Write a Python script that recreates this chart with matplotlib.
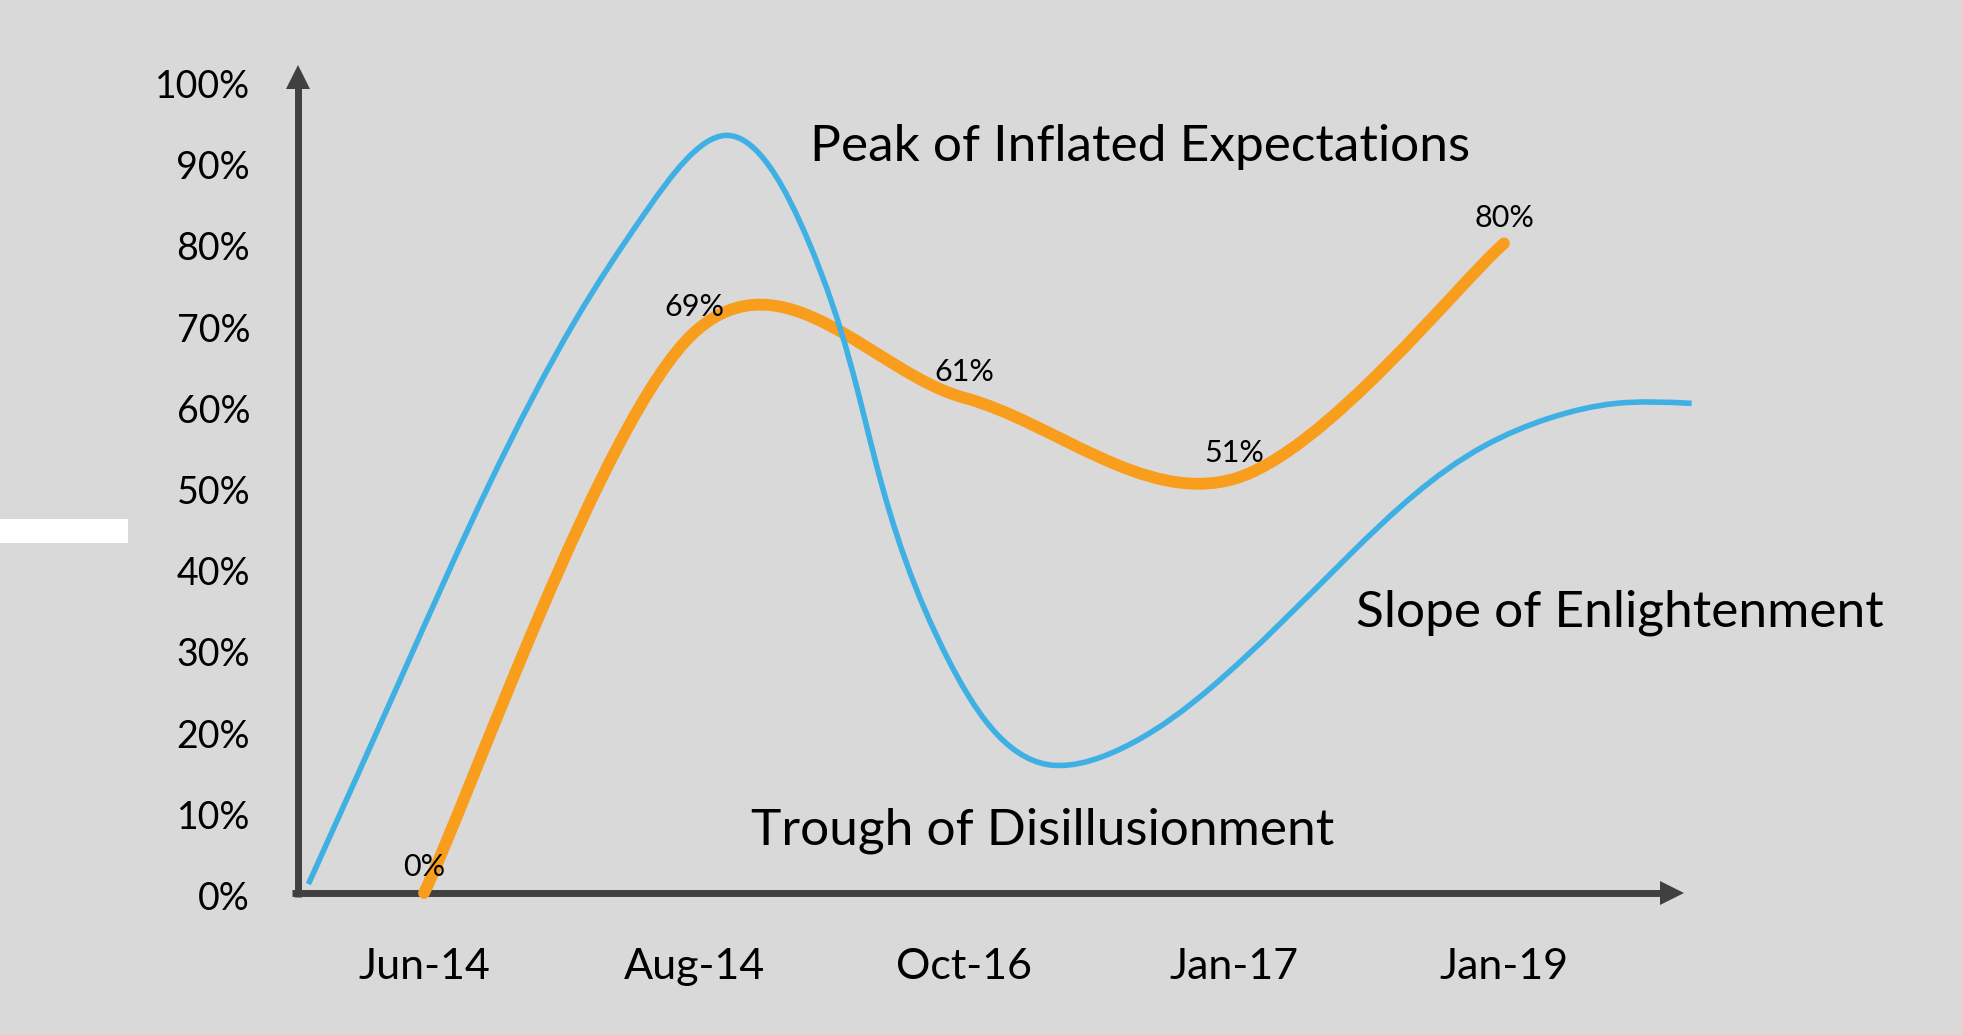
import matplotlib
matplotlib.use("Agg")
import numpy as np
import matplotlib.pyplot as plt
from matplotlib.path import Path
from matplotlib.patches import PathPatch, Rectangle
from matplotlib.transforms import ScaledTranslation

# ---------------- data ----------------
categories = ["Jun-14", "Aug-14", "Oct-16", "Jan-17", "Jan-19"]
adoption_values = [0, 69, 61, 51, 80]          # orange series (%)
adoption_labels = ["0%", "69%", "61%", "51%", "80%"]

# blue "hype cycle" reference curve: position in category units, value in %
hype_x = [0.572, 0.911, 1.244, 1.562, 1.826, 2.117, 2.422, 2.675, 2.944,
          3.313, 3.625, 3.908, 4.430, 4.924, 5.170, 5.417, 5.695]
hype_y = [1.1, 26.2, 50.5, 70.6, 84.1, 93.3, 80.4, 52.8, 28.6,
          15.8, 18.5, 25.1, 41.7, 55.0, 58.5, 60.3, 60.3]

y_ticks = [0, 10, 20, 30, 40, 50, 60, 70, 80, 90, 100]
y_tick_labels = [f"{v}%" for v in y_ticks]

phase_labels = ["Peak of Inflated Expectations",
                "Trough of Disillusionment",
                "Slope of Enlightenment"]
phase_pos = [(3.652, 90.1), (3.293, 6.0), (5.43, 32.8)]

# ---------------- style ----------------
BG = "#D9D9D9"
AXC = "#404040"
BLUE = "#3EB0E4"
ORANGE = "#F99D1C"
FONT = "Lato"

W, H = 1962, 1035
fig = plt.figure(figsize=(W / 100, H / 100), dpi=100, facecolor=BG)
ax = fig.add_axes([298 / W, (H - 893) / H, 1385 / W, 812 / H])
ax.set_facecolor(BG)
ax.set_xlim(0.5333, 5.663)
ax.set_ylim(0, 100)
for s in ax.spines.values():
    s.set_visible(False)


def smooth_path_uniform(xs, ys):
    """Excel-like line smoothing for evenly spaced categories."""
    pts = list(zip(xs, ys))
    ext = [pts[0]] + pts + [pts[-1]]
    verts = [pts[0]]
    codes = [Path.MOVETO]
    for i in range(len(pts) - 1):
        p0, p1, p2, p3 = ext[i], ext[i + 1], ext[i + 2], ext[i + 3]
        c1 = (p1[0] + (p2[0] - p0[0]) / 6, p1[1] + (p2[1] - p0[1]) / 6)
        c2 = (p2[0] - (p3[0] - p1[0]) / 6, p2[1] - (p3[1] - p1[1]) / 6)
        verts += [c1, c2, p2]
        codes += [Path.CURVE4] * 3
    return Path(verts, codes)


def _natural_second_derivs(t, f):
    n = len(t)
    h = np.diff(t)
    A = np.zeros((n, n))
    r = np.zeros(n)
    A[0, 0] = A[-1, -1] = 1.0
    for i in range(1, n - 1):
        A[i, i - 1] = h[i - 1]
        A[i, i] = 2 * (h[i - 1] + h[i])
        A[i, i + 1] = h[i]
        r[i] = 6 * ((f[i + 1] - f[i]) / h[i] - (f[i] - f[i - 1]) / h[i - 1])
    return np.linalg.solve(A, r)


def smooth_path_spline(xs, ys):
    """Parametric natural cubic spline through the points (chord-length
    knots measured on screen), emitted as Bezier segments."""
    P = np.column_stack([xs, ys]).astype(float)
    disp = ax.transData.transform(P)
    t = np.concatenate([[0], np.cumsum(np.hypot(*np.diff(disp, axis=0).T))])
    Mx = _natural_second_derivs(t, P[:, 0])
    My = _natural_second_derivs(t, P[:, 1])
    verts = [tuple(P[0])]
    codes = [Path.MOVETO]
    for i in range(len(P) - 1):
        h = t[i + 1] - t[i]
        ctrl = []
        for f, M in ((P[:, 0], Mx), (P[:, 1], My)):
            s = (f[i + 1] - f[i]) / h
            d0 = s - h * (2 * M[i] + M[i + 1]) / 6
            d1 = s + h * (M[i] + 2 * M[i + 1]) / 6
            ctrl.append((f[i] + h * d0 / 3, f[i + 1] - h * d1 / 3))
        c1 = (ctrl[0][0], ctrl[1][0])
        c2 = (ctrl[0][1], ctrl[1][1])
        verts += [c1, c2, tuple(P[i + 1])]
        codes += [Path.CURVE4] * 3
    return Path(verts, codes)


# axes arrows
ax.plot([0, 0], [-0.005, 1.0], transform=ax.transAxes, color=AXC, lw=5,
        solid_capstyle="butt", clip_on=False, zorder=1)
ax.plot([0], [1.00554], transform=ax.transAxes, marker="^", markersize=16.6,
        color=AXC, markeredgewidth=0, clip_on=False, zorder=1)
ax.plot([-0.0045, 0.99], [0, 0], transform=ax.transAxes, color=AXC, lw=5,
        solid_capstyle="butt", clip_on=False, zorder=1)
ax.plot([0.9917], [0], transform=ax.transAxes, marker=">", markersize=16.6,
        color=AXC, markeredgewidth=0, clip_on=False, zorder=1)

# series
xs_cat = list(range(1, len(categories) + 1))
orange = PathPatch(smooth_path_uniform(xs_cat, adoption_values), fill=False,
                   edgecolor=ORANGE, lw=8.5, capstyle="round",
                   transform=ax.transData, clip_on=False, zorder=3)
ax.add_patch(orange)
blue = PathPatch(smooth_path_spline(hype_x, hype_y), fill=False,
                 edgecolor=BLUE, lw=4, capstyle="butt",
                 transform=ax.transData, clip_on=False, zorder=4)
ax.add_patch(blue)

# data labels
for x, v, lab in zip(xs_cat, adoption_values, adoption_labels):
    ax.annotate(lab, (x, v), xytext=(0, 12), textcoords="offset points",
                ha="center", va="baseline", fontsize=22, family=FONT,
                color="black", zorder=5, annotation_clip=False)

# phase labels
for (x, y), lab in zip(phase_pos, phase_labels):
    ax.text(x, y, lab, ha="center", va="baseline", fontsize=37,
            family=FONT, color="black", zorder=5, clip_on=False)

# ticks
ax.set_xticks(xs_cat)
ax.set_xticklabels(categories, fontsize=31, family=FONT, va="baseline")
ax.set_yticks(y_ticks)
ax.set_yticklabels(y_tick_labels, fontsize=27, family=FONT, va="baseline")
ax.tick_params(axis="x", length=0, pad=61.9)
ax.tick_params(axis="y", length=0, pad=34.5)
off = ScaledTranslation(0, -0.17, fig.dpi_scale_trans)
for lab in ax.get_yticklabels():
    lab.set_transform(lab.get_transform() + off)

# white bar on the left edge
fig.patches.append(Rectangle((0, (H - 543) / H), 128 / W, 24 / H,
                             transform=fig.transFigure, facecolor="white",
                             edgecolor="none"))

fig.savefig("out.png", dpi=100, facecolor=BG)
